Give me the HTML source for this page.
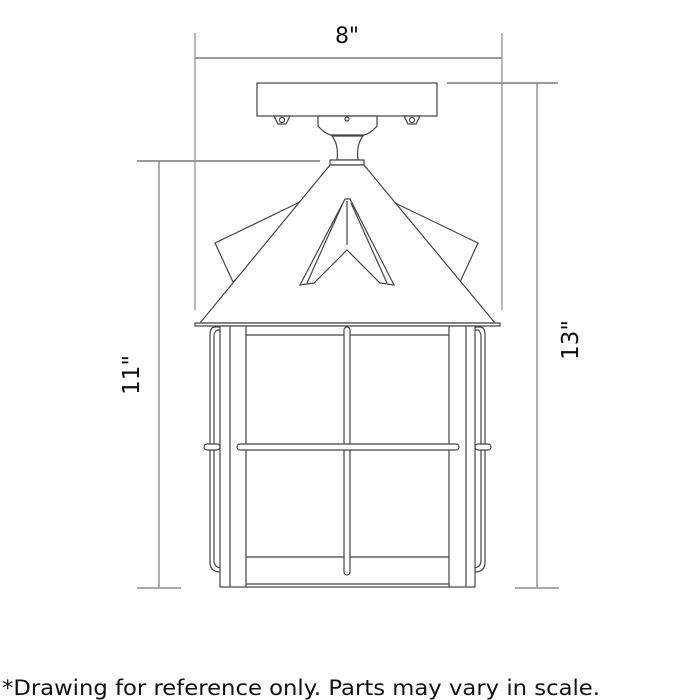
<!DOCTYPE html>
<html><head><style>
html,body{margin:0;padding:0;background:#fff;}
svg{display:block;}
</style></head><body>
<svg width="700" height="700" viewBox="0 0 700 700" xmlns="http://www.w3.org/2000/svg">
<g fill="none" stroke="#555" stroke-width="1.2">
<line x1="195" y1="33" x2="195" y2="310" stroke="#888"/>
<line x1="502" y1="33" x2="502" y2="310" stroke="#888"/>
<line x1="195" y1="58" x2="502" y2="58" stroke="#999" stroke-width="2"/>
<line x1="447" y1="83" x2="558" y2="83" stroke="#999" stroke-width="2"/>
<line x1="537" y1="83" x2="537" y2="588" stroke="#777"/>
<line x1="515" y1="588" x2="559" y2="588" stroke="#aaa" stroke-width="2"/>
<line x1="137" y1="161" x2="320" y2="161" stroke="#999" stroke-width="2"/>
<line x1="159" y1="161" x2="159" y2="588" stroke="#777"/>
<line x1="137" y1="588" x2="181" y2="588" stroke="#aaa" stroke-width="2"/>
</g>
<g fill="#fff" stroke="#444" stroke-width="1.2">
<rect x="257" y="83" width="180" height="33"/>
<path d="M274 116 L290 116 L286 124 L278 124 Z"/><circle cx="282" cy="120" r="2.5"/>
<path d="M404 116 L420 116 L416 124 L408 124 Z"/><circle cx="412" cy="120" r="2.5"/>
<path d="M318 116 L377 116 L377 126 Q370 134 364 135 L331 135 Q325 134 318 126 Z"/>
<circle cx="347" cy="119" r="2"/>
<path d="M332 136 L363 136 Q356 145 358 160 L337 160 Q339 145 332 136 Z"/>
<rect x="330" y="160" width="34" height="5"/>
<polygon points="300,202 215,243 233,282 275,240"/>
<polygon points="393,202 478,243 460,282 420,240"/>
<polygon points="330,165 364,165 495,323 200,323"/>
<polygon points="345,199 350,199 394,285 380,283 347,250 314,283 300,285"/>
<polyline points="347,201 347,245" />
<polyline points="307,283 343,203" fill="none"/>
<polyline points="387,283 351,203" fill="none"/>
<rect x="195" y="323" width="305" height="3"/>
<path d="M222 327 L215 327 Q210 327 210 335 L210 562 Q210 572 220 572" />
<path d="M222 330 L217 330 Q214 332 214 336 L214 560 Q214 568 222 568" />
<path d="M473 327 L480 327 Q485 327 485 335 L485 562 Q485 572 475 572" />
<path d="M473 330 L478 330 Q481 332 481 336 L481 560 Q481 568 473 568" />
<rect x="220" y="326" width="255" height="261"/>
<line x1="230" y1="326" x2="230" y2="587"/>
<line x1="246" y1="326" x2="246" y2="587"/>
<line x1="449" y1="326" x2="449" y2="587"/>
<line x1="466" y1="326" x2="466" y2="587"/>
<line x1="246" y1="335" x2="449" y2="335"/>
<line x1="246" y1="557" x2="449" y2="557"/>
<line x1="246" y1="584" x2="449" y2="584"/>
<rect x="344" y="327" width="6" height="248" rx="3"/>
<rect x="237" y="444" width="222" height="6" rx="3"/>
<rect x="204" y="444" width="16" height="6" rx="3"/>
<rect x="475" y="444" width="16" height="6" rx="3"/>
</g>
<g font-family="'DejaVu Sans','Liberation Sans',sans-serif" fill="#111">
<text x="347" y="43" font-size="22" text-anchor="middle">8"</text>
<text transform="translate(139,375) rotate(-90)" font-size="23" text-anchor="middle">11"</text>
<text transform="translate(578,340) rotate(-90)" font-size="23" text-anchor="middle">13"</text>
<text x="2" y="695" font-size="21" textLength="598" lengthAdjust="spacingAndGlyphs">*Drawing for reference only. Parts may vary in scale.</text>
</g>
</svg>
</body></html>
